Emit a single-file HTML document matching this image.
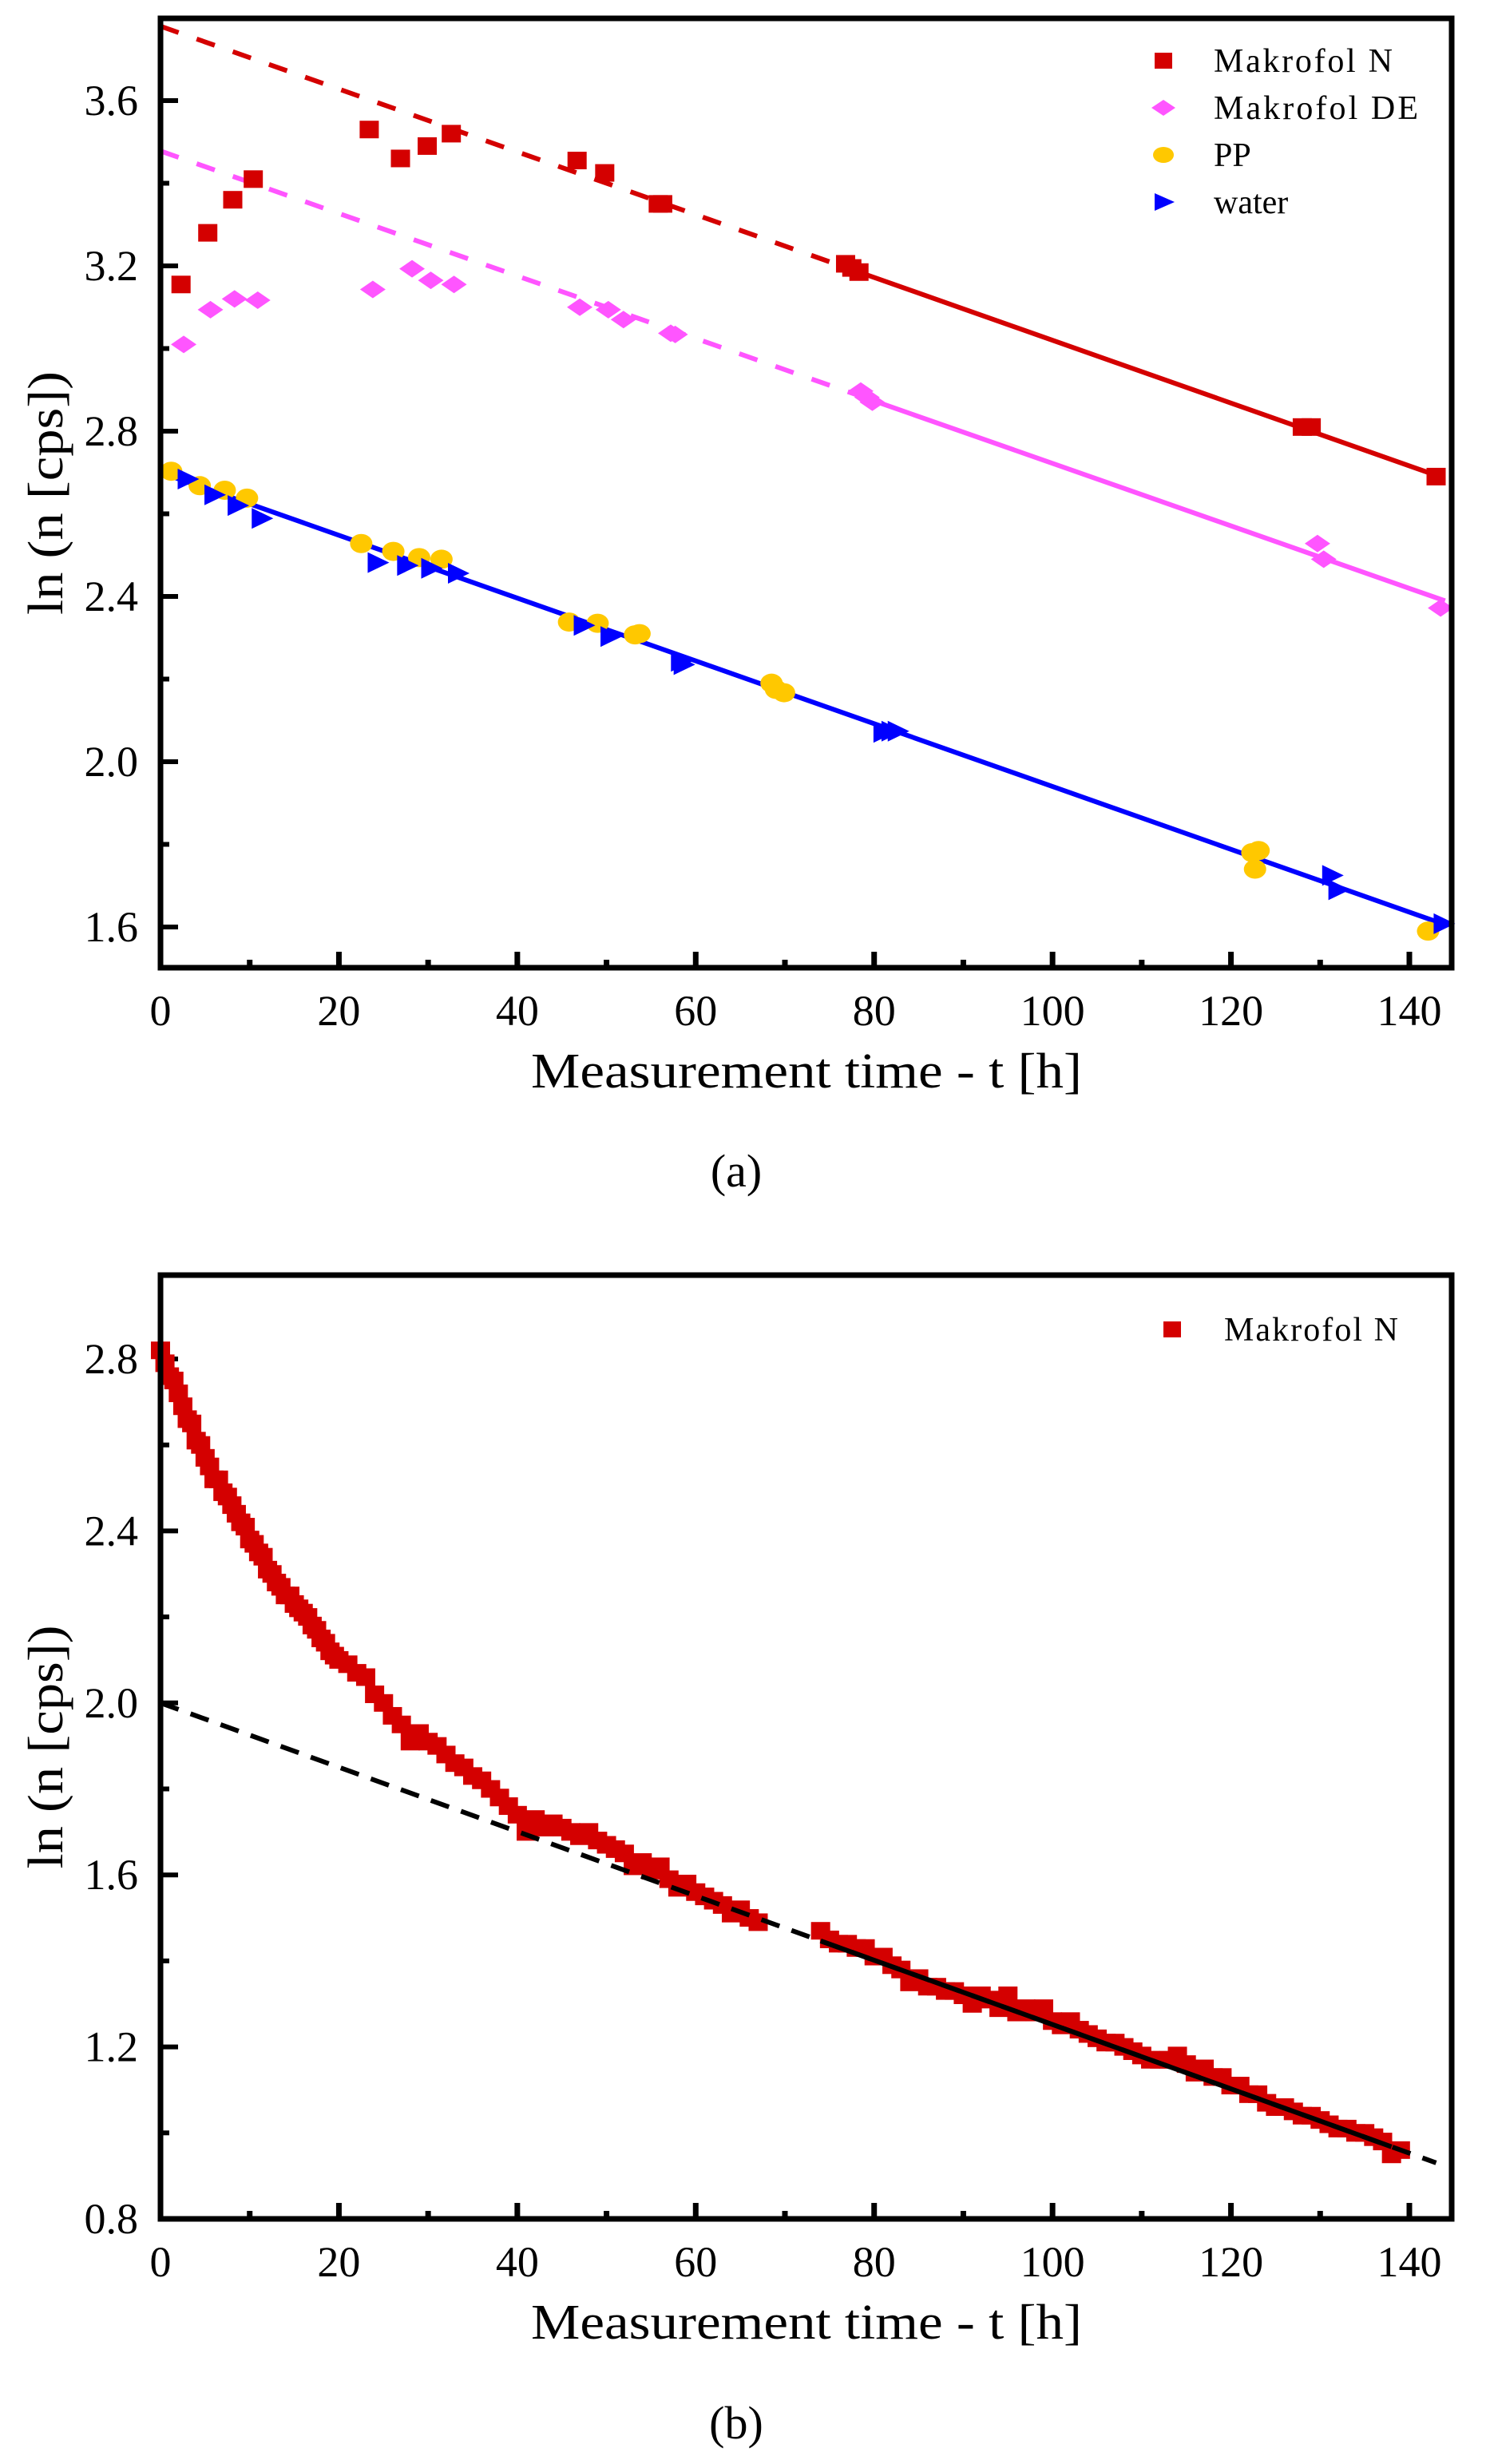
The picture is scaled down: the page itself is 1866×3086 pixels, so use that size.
<!DOCTYPE html>
<html><head><meta charset="utf-8"><style>
html,body{margin:0;padding:0;background:#fff}
svg{display:block}
text{font-family:"Liberation Serif",serif;fill:#000}
</style></head><body>
<svg id="fig" width="1866" height="3086" viewBox="0 0 1866 3086" xmlns="http://www.w3.org/2000/svg"></svg>
<script>
// ---------- Panel (a) data ----------
const aNt=[2.3,5.3,8.1,10.4,23.4,26.9,29.9,32.6,46.7,49.8,55.8,56.3,76.8,77.5,78.3,128,129,143];
const aNy=[3.155,3.28,3.36,3.41,3.53,3.46,3.49,3.52,3.455,3.425,3.35,3.35,3.205,3.195,3.185,2.81,2.81,2.69];
const aDEt=[2.6,5.6,8.3,10.9,23.8,28.2,30.3,32.9,47.0,50.2,51.9,57.2,57.7,78.5,79.2,79.8,129.7,130.4,143.5];
const aDEy=[3.01,3.094,3.12,3.117,3.143,3.193,3.165,3.155,3.10,3.094,3.07,3.037,3.034,2.897,2.882,2.87,2.528,2.49,2.372];
const aPPt=[1.2,4.4,7.2,9.7,22.5,26.1,29.0,31.5,45.8,49.0,53.2,53.7,68.5,69.0,69.9,122.4,122.7,123.1,142.1];
const aPPy=[2.703,2.668,2.657,2.638,2.528,2.509,2.494,2.49,2.338,2.335,2.307,2.31,2.19,2.175,2.167,1.78,1.74,1.785,1.59];
const aWt=[3.0,6.0,8.6,11.3,24.3,27.6,30.3,33.3,47.4,50.4,58.3,58.6,81.0,81.9,82.6,131.3,132.0,143.8];
const aWy=[2.684,2.646,2.62,2.589,2.482,2.475,2.468,2.456,2.33,2.303,2.243,2.235,2.071,2.074,2.074,1.725,1.69,1.608];
// fit lines: [intercept, slope, dashedEnd, solidEnd]
const fitN=[3.78,-0.0076,77,143.5];
const fitDE=[3.478,-0.00756,78,144];
const fitW=[2.70,-0.0076,0,144];
const aYTicks=["1.6","2.0","2.4","2.8","3.2","3.6"];
const xTicks=["0","20","40","60","80","100","120","140"];
// ---------- Panel (b) data ----------
const bT=[0,0.5,1,1.5,2,2.5,3,3.5,4,4.5,5,5.5,6,6.5,7,7.5,8,8.5,9,9.5,10,10.5,11,11.5,12,12.5,13,13.5,14,14.5,15,15.5,16,16.5,17,17.5,18,18.5,19,19.5,20,21,22,23,24,25,26,27,28,29,30,31,32,33,34,35,36,37,38,39,40,41,42,43,44,45,46,47,48,49,50,51,52,53,54,55,56,57,58,59,60,61,62,63,64,65,66,67,
74,75,76,77,78,79,80,81,82,83,84,85,86,87,88,89,90,91,92,93,94,95,96,97,98,99,100,101,102,103,104,105,106,107,108,109,110,111,112,113,114,115,116,117,118,119,120,121,122,123,124,125,126,127,128,129,130,131,132,133,134,135,136,137,138,139];
const bY=[2.82,2.79,2.76,2.75,2.72,2.69,2.66,2.65,2.61,2.6,2.57,2.55,2.52,2.52,2.49,2.48,2.46,2.44,2.42,2.41,2.38,2.37,2.35,2.34,2.31,2.3,2.28,2.27,2.25,2.25,2.23,2.22,2.21,2.2,2.18,2.17,2.15,2.14,2.12,2.11,2.10,2.09,2.07,2.06,2.02,2.00,1.97,1.95,1.91,1.93,1.91,1.90,1.88,1.86,1.85,1.83,1.82,1.80,1.78,1.76,1.74,1.70,1.73,1.71,1.72,1.71,1.70,1.69,1.70,1.68,1.67,1.66,1.65,1.62,1.63,1.61,1.62,1.59,1.57,1.58,1.56,1.55,1.54,1.53,1.51,1.52,1.50,1.49,
1.47,1.45,1.44,1.44,1.43,1.43,1.41,1.41,1.39,1.38,1.35,1.36,1.34,1.34,1.33,1.33,1.32,1.30,1.32,1.31,1.29,1.32,1.28,1.29,1.28,1.29,1.26,1.25,1.26,1.24,1.23,1.22,1.21,1.21,1.20,1.19,1.18,1.17,1.17,1.17,1.18,1.16,1.14,1.15,1.13,1.13,1.11,1.11,1.09,1.09,1.07,1.06,1.06,1.05,1.04,1.04,1.03,1.02,1.01,1.01,1.00,1.00,0.99,0.98,0.95,0.96];
const fitB=[2.0,-0.00748,74,138];
const bYTicks=["0.8","1.2","1.6","2.0","2.4","2.8"];

const NS="http://www.w3.org/2000/svg";
const svg=document.getElementById('fig');
function mk(tag,attrs,parent){const e=document.createElementNS(NS,tag);for(const k in attrs)e.setAttribute(k,attrs[k]);(parent||svg).appendChild(e);return e;}

function panel(P){
  const g=mk('g',{});
  
  
  const X=t=>P.x0+t*P.sx, Y=v=>P.y0-(v-P.v0)*P.sy;
  for(let i=0;i<=P.xMax/10;i++){const len=i%2===0?20:10;
    const t=mk('line',{x1:X(i*10),x2:X(i*10),y1:P.bottom,y2:P.bottom-len,stroke:'#000','stroke-width':7},g);
    }
  xTicks.forEach((s,i)=>{const t=mk('text',{x:X(i*20),y:P.bottom+72,'font-size':54,'text-anchor':'middle'},g);t.textContent=s;
    });
  for(let v=P.yStart;v<=P.yEnd+1e-9;v+=0.2){const major=Math.round(v*10)%4===Math.round(P.v0*10)%4;
    const t=mk('line',{x1:P.left,x2:P.left+(major?22:11),y1:Y(v),y2:Y(v),stroke:'#000','stroke-width':6},g);
    }
  P.yLabels.forEach((s,i)=>{const t=mk('text',{x:P.left-28,y:Y(P.v0+i*0.4)+18,'font-size':54,'text-anchor':'end'},g);t.textContent=s;
    });
  const clip='c'+P.name;
  const cp=mk('clipPath',{id:clip},g);mk('rect',{x:P.left,y:P.top,width:P.right-P.left,height:P.bottom-P.top},cp);
  function drawFits(){
    P.fits.forEach(f=>{
      if(f.fit[2]>0){const l=mk('line',{x1:X(0),y1:Y(f.fit[0]),x2:X(f.dEnd),y2:Y(f.fit[0]+f.fit[1]*f.dEnd),stroke:f.color,'stroke-width':6,'stroke-dasharray':f.dash,'clip-path':'url(#'+clip+')'},g);
        }
      const a=f.fit[2];const l=mk('line',{x1:X(a),y1:Y(f.fit[0]+f.fit[1]*a),x2:X(f.fit[3]),y2:Y(f.fit[0]+f.fit[1]*f.fit[3]),stroke:f.color,'stroke-width':6},g);
      
    });
  }
  if(!P.fitsOnTop)drawFits();
  P.series.forEach(s=>{
    s.t.forEach((t,i)=>{const cx=X(t),cy=Y(s.y[i]);let m;
      if(s.shape==='sq')m=mk('rect',{x:cx-12,y:cy-11,width:24,height:22,fill:s.color},g);
      else if(s.shape==='dia')m=mk('polygon',{points:`${cx-16},${cy} ${cx},${cy-11} ${cx+16},${cy} ${cx},${cy+11}`,fill:s.color},g);
      else if(s.shape==='circ')m=mk('ellipse',{cx:cx,cy:cy,rx:14,ry:12,fill:s.color},g);
      else m=mk('polygon',{points:`${cx-12},${cy-13} ${cx+15},${cy} ${cx-12},${cy+13}`,fill:s.color},g);
      });
  });
  if(P.fitsOnTop)drawFits();
  const fr=mk('rect',{x:P.left,y:P.top,width:P.right-P.left,height:P.bottom-P.top,fill:'none',stroke:'#000','stroke-width':7},g);
  
  const xt=mk('text',{x:1010,y:P.bottom+150,'font-size':62,'text-anchor':'middle',textLength:690,lengthAdjust:'spacingAndGlyphs'},g);
  xt.textContent='Measurement time - t [h]';
  const yc=(P.top+P.bottom)/2;
  const yt=mk('text',{x:0,y:0,'font-size':62,'text-anchor':'middle',transform:`translate(78,${yc}) rotate(-90)`,textLength:305,lengthAdjust:'spacingAndGlyphs'},g);
  yt.textContent='ln (n [cps])';
  const cap=mk('text',{x:922,y:P.capY,'font-size':58,'text-anchor':'middle'},g);
  cap.textContent=P.cap;
  P.legend.forEach((L,i)=>{const cy=L.y;const cx=L.mx;let m;
    if(L.shape==='sq')m=mk('rect',{x:cx-11,y:cy-10,width:22,height:20,fill:L.color},g);
    else if(L.shape==='dia')m=mk('polygon',{points:`${cx-15},${cy} ${cx},${cy-10} ${cx+15},${cy} ${cx},${cy+10}`,fill:L.color},g);
    else if(L.shape==='circ')m=mk('ellipse',{cx:cx,cy:cy,rx:13,ry:10,fill:L.color},g);
    else m=mk('polygon',{points:`${cx-11},${cy-11} ${cx+14},${cy} ${cx-11},${cy+11}`,fill:L.color},g);
    
    const t=mk('text',{x:L.tx,y:cy+14,'font-size':42},g);if(L.w)t.setAttribute('textLength',L.w);t.textContent=L.label;
    });
}

const sx=(1765-201)/140;
panel({name:'panel-a',left:201,right:1818,top:23,bottom:1212,x0:201,sx:sx,y0:1161,v0:1.6,sy:517.5,xMax:140,yStart:1.6,yEnd:3.8,
  yLabels:aYTicks,cap:'(a)',capY:1486,fitsOnTop:false,
  fits:[{fit:fitN,dEnd:77,color:'#d40000',dash:'24 24',name:'makrofol-n'},{fit:fitDE,dEnd:78,color:'#ff55ff',dash:'24 24',name:'makrofol-de'},{fit:fitW,dEnd:0,color:'#0000ff',dash:'',name:'water'}],
  series:[{t:aNt,y:aNy,shape:'sq',color:'#d40000',name:'makrofol-n'},{t:aDEt,y:aDEy,shape:'dia',color:'#ff55ff',name:'makrofol-de'},{t:aPPt,y:aPPy,shape:'circ',color:'#ffc800',name:'pp'},{t:aWt,y:aWy,shape:'tri',color:'#0000ff',name:'water'}],
  legend:[{label:'Makrofol N',shape:'sq',color:'#d40000',mx:1457,tx:1520,y:76,w:224},{label:'Makrofol DE',shape:'dia',color:'#ff55ff',mx:1457,tx:1520,y:135,w:256},{label:'PP',shape:'circ',color:'#ffc800',mx:1457,tx:1520,y:194},{label:'water',shape:'tri',color:'#0000ff',mx:1457,tx:1520,y:253}]
});
panel({name:'panel-b',left:201,right:1818,top:1597,bottom:2779,x0:201,sx:sx,y0:2779,v0:0.8,sy:538.5,xMax:140,yStart:0.8,yEnd:2.9,
  yLabels:bYTicks,cap:'(b)',capY:3054,fitsOnTop:true,
  fits:[{fit:fitB,dEnd:143,color:'#000',dash:'24 16',name:'makrofol-n'}],
  series:[{t:bT,y:bY,shape:'sq',color:'#d40000',name:'makrofol-n'}],
  legend:[{label:'Makrofol N',shape:'sq',color:'#d40000',mx:1468,tx:1533,y:1665,w:218}]
});
</script>
</body></html>
